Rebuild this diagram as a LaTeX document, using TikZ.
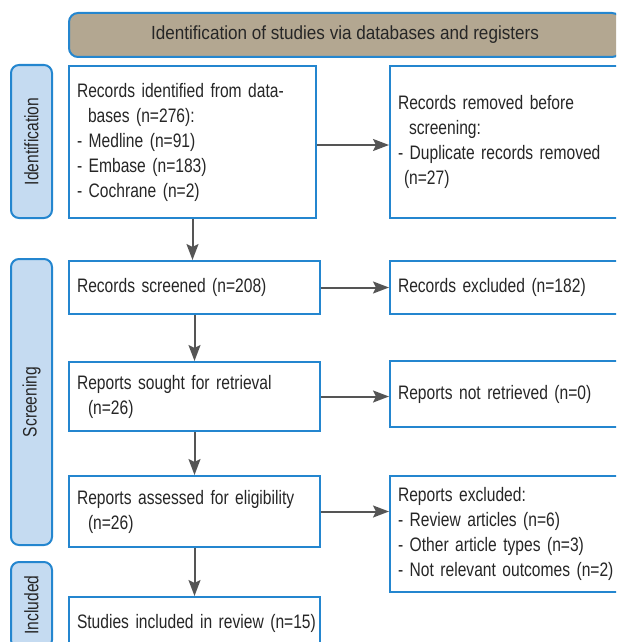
\documentclass[tikz,border=0pt]{standalone}
\usepackage{fontspec}
\setmainfont{Liberation Sans}[FakeStretch=0.8]
\newfontfamily\headfont{Liberation Sans}[FakeStretch=0.9]
\usetikzlibrary{arrows.meta}
\definecolor{prismablue}{RGB}{36,134,207}
\definecolor{prismatan}{RGB}{179,167,145}
\definecolor{labelblue}{RGB}{197,219,241}
\definecolor{arrowgray}{RGB}{85,85,85}

\begin{document}
\begin{tikzpicture}[
    x=1pt, y=-1pt,
    box/.style={draw=prismablue, line width=2pt, fill=white, align=left,
        inner xsep=8pt, inner ysep=0pt, text=black!85},
    phase/.style={draw=prismablue, line width=2pt, fill=labelblue,
        rounded corners=8pt, rotate=90, minimum height=41pt, inner sep=0pt,
        text=black!85},
    header/.style={draw=prismablue, line width=2pt, fill=prismatan,
        rounded corners=9pt, minimum width=552pt, minimum height=44pt,
        text=black!85, font=\fontsize{19}{25}\headfont},
    arrow/.style={->, draw=arrowgray, line width=2pt},
    >={Stealth[length=16pt, width=12pt, inset=3pt]},
    font=\fontsize{19.5}{25}\selectfont
]
    \useasboundingbox (0,0) rectangle (616,642);
    \clip (0,0) rectangle (616,642);

    % title bar
    \node[header] (title) at (345,35) {Identification of studies via databases and registers};

    % phase labels (left)
    \node[phase, minimum width=153pt] (lidn) at (31.5,141.5) {Identification};
    \node[phase, minimum width=286pt] (lscr) at (31.5,402) {Screening};
    \node[phase, minimum width=86pt] (linc) at (31.5,605) {Included};

    % main column
    \node[box, text width=231pt, minimum height=152pt] (ident) at (192.5,142)
        {Records identified from data-\\\hspace*{11pt}bases (n=276):\\- Medline (n=91)\\- Embase (n=183)\\- Cochrane (n=2)};
    \node[box, text width=235pt, minimum height=53pt] (screened) at (194.5,287.5)
        {Records screened (n=208)};
    \node[box, text width=235pt, minimum height=69pt] (sought) at (194.5,396.5)
        {Reports sought for retrieval\\\hspace*{11pt}(n=26)};
    \node[box, text width=235pt, minimum height=71pt] (assessed) at (194.5,511.5)
        {Reports assessed for eligibility\\\hspace*{11pt}(n=26)};
    \node[box, text width=235pt, minimum height=53pt] (included) at (194.5,623.5)
        {\mbox{Studies included in review (n=15)}};

    % side column (right)
    \node[box, text width=235pt, minimum height=152pt] (removed) at (515.5,142)
        {Records removed before\\\hspace*{11pt}screening:\\- Duplicate records removed\\\hspace*{6pt}(n=27)};
    \node[box, text width=235pt, minimum height=53pt] (excluded) at (515.5,287.5)
        {Records excluded (n=182)};
    \node[box, text width=235pt, minimum height=66pt] (notret) at (515.5,394)
        {Reports not retrieved (n=0)};
    \node[box, text width=235pt, minimum height=116pt] (repexcl) at (515.5,534)
        {Reports excluded:\\- Review articles (n=6)\\- Other article types (n=3)\\- Not relevant outcomes (n=2)};

    % downward arrows
    \draw[arrow] (ident.south) -- (ident.south |- screened.north);
    \draw[arrow] (screened) -- (sought);
    \draw[arrow] (sought) -- (assessed);
    \draw[arrow] (assessed) -- (included);

    % arrows to the right
    \draw[arrow] ([yshift=-3pt]ident.east) -- ([yshift=-3pt]removed.west);
    \draw[arrow] (screened) -- (excluded);
    \draw[arrow] (sought.east) -- (sought.east -| notret.west);
    \draw[arrow] (assessed.east) -- (assessed.east -| repexcl.west);

\end{tikzpicture}
\end{document}
